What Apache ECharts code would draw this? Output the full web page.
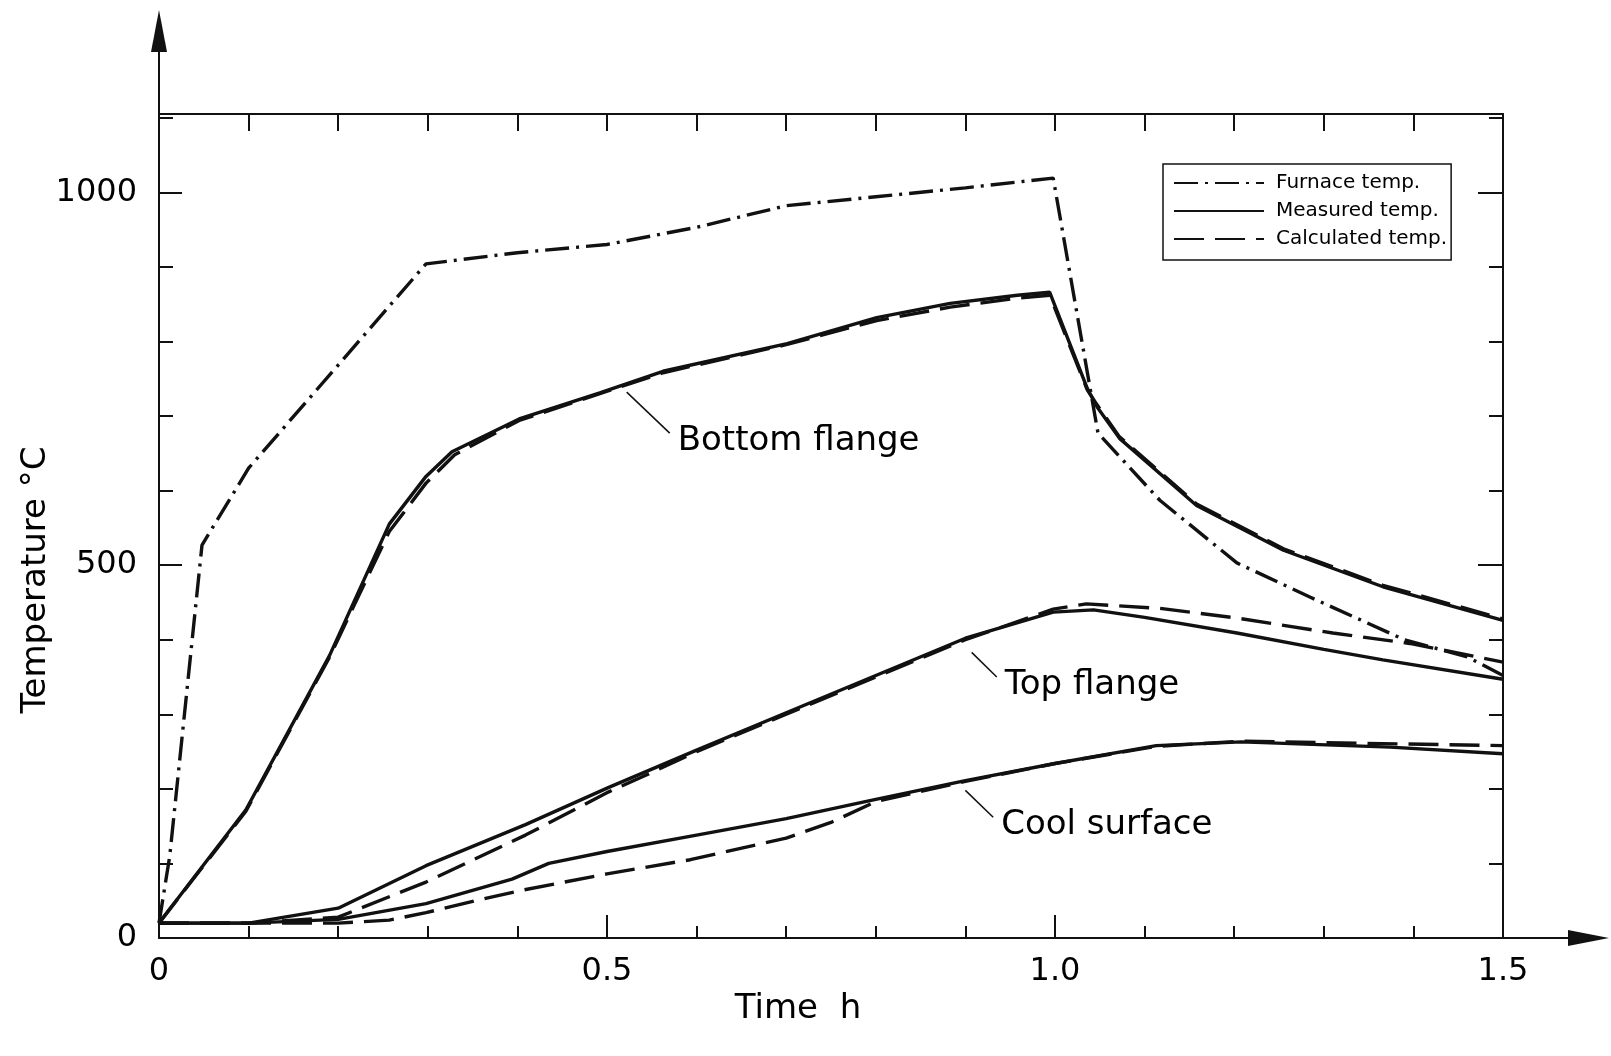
<!DOCTYPE html>
<html>
<head>
<meta charset="utf-8">
<script src="https://cdn.jsdelivr.net/npm/echarts@6/dist/echarts.min.js"></script>
<style>
html,body{margin:0;padding:0;background:#fff;}
#chart{width:1611px;height:1056px;}
</style>
</head>
<body>
<div id="chart"></div>
<script>
// ---- data: [time h, temperature °C] ----
const furnaceTemp = [[0,20],[0.012,110],[0.048,527],[0.1,630],[0.298,904],[0.4,919],[0.5,930],[0.6,953],[0.7,982],[0.8,994],[0.9,1006],[0.998,1019],[1.048,677],[1.117,587],[1.203,503],[1.285,457],[1.39,400],[1.46,377],[1.5,352]];

const bottomMeasured = [[0,20],[0.097,172],[0.19,378],[0.257,555],[0.298,619],[0.327,652],[0.402,696],[0.492,731],[0.5625,760],[0.701,797],[0.801,832],[0.883,851],[0.958,862],[0.994,866],[1.036,737],[1.047,712],[1.072,670],[1.158,580],[1.255,520],[1.366,471],[1.5,426]];
const bottomCalculated = [[0,20],[0.097,170],[0.19,376],[0.257,545],[0.298,610],[0.33,648],[0.402,694],[0.492,730],[0.5625,758],[0.701,796],[0.801,828],[0.883,846],[0.958,858],[0.994,862],[1.036,735],[1.047,715],[1.072,672],[1.158,582],[1.255,522],[1.366,473],[1.5,428]];

const topMeasured = [[0,20],[0.1,20],[0.2,40],[0.298,97],[0.409,152],[0.502,202],[0.6,252],[0.7,302],[0.8,352],[0.9,402],[0.998,437],[1.043,440],[1.1,430],[1.203,409],[1.3,387],[1.366,373],[1.5,347]];
const topCalculated = [[0,20],[0.1,20],[0.2,28],[0.298,75],[0.409,138],[0.502,196],[0.55,222],[0.6,250],[0.7,300],[0.8,350],[0.9,400],[0.998,441],[1.035,448],[1.117,442],[1.203,429],[1.31,409],[1.396,395],[1.5,370]];

const coolMeasured = [[0,20],[0.1,20],[0.2,25],[0.298,46],[0.394,79],[0.435,100],[0.5,116],[0.6,138],[0.7,160],[0.8,186],[0.9,211],[1.0,234],[1.113,258],[1.208,263],[1.374,256],[1.5,247]];
const coolCalculated = [[0,20],[0.1,20],[0.2,20],[0.257,24],[0.298,34],[0.353,50],[0.405,64],[0.5,86],[0.593,105],[0.7,134],[0.75,155],[0.8,183],[0.9,210],[1.0,234],[1.113,257],[1.208,264],[1.3,262],[1.5,258]];

// annotation leader lines (start near curve, end at text)
const bottomLeader = [[0.522,732],[0.570,677]];
const topLeader = [[0.907,383],[0.935,350]];
const coolLeader = [[0.900,198],[0.931,162]];
const leaderTexts = ['Bottom flange','Top flange','Cool surface'];

// tick labels
const xLabelValues = [0,0.5,1.0,1.5];
const xLabelTexts = ['0','0.5','1.0','1.5'];
const yLabelValues = [0,500,1000];
const legendNames = ['Furnace temp.','Measured temp.','Calculated temp.'];

const FONT = 'DejaVu Sans';
const INK = '#111';
const furnaceDash = [24,7,3,7];
const calcDash = [30,11];

const chart = echarts.init(document.getElementById('chart'), null, {renderer:'canvas'});

function curve(name, data, dash) {
  return {
    type:'line', name:name, data:data, xAxisIndex:0, yAxisIndex:0,
    symbol:'none', smooth:false, animation:false,
    lineStyle:{color:INK, width:3.4, type: dash || 'solid'},
    itemStyle:{color:INK}
  };
}
function leader(data, text) {
  return {
    type:'line', name:text, data:data, xAxisIndex:0, yAxisIndex:0,
    symbol:'none', animation:false,
    lineStyle:{color:INK, width:1.5},
    itemStyle:{color:INK},
    endLabel:{show:true, formatter:text, color:'#000', fontFamily:FONT, fontSize:34, distance:8, offset:[0,8]}
  };
}

const axisLineStyle = {show:true, onZero:false, lineStyle:{color:INK, width:2}};
const hiddenLine = {show:false, onZero:false};

const option = {
  backgroundColor:'#fff',
  animation:false,
  grid:{left:159, right:108, top:114, bottom:118},
  legend:{
    data:legendNames,
    orient:'vertical', left:1163, top:164,
    itemWidth:90, itemHeight:20, itemGap:8,
    padding:[9,4,11,10],
    borderColor:INK, borderWidth:1.5,
    selectedMode:false,
    lineStyle:{width:2},
    itemStyle:{opacity:0},
    textStyle:{fontFamily:FONT, fontSize:20, color:'#000', padding:[0,0,0,7]}
  },
  xAxis:[
    {
      type:'value', position:'bottom', min:0, max:1.5, interval:0.5,
      axisLine:axisLineStyle,
      axisTick:{show:true, inside:true, length:23, lineStyle:{color:INK, width:2}},
      minorTick:{show:true, splitNumber:5, length:12, lineStyle:{color:INK, width:2}},
      splitLine:{show:false},
      axisLabel:{
        margin:18, fontFamily:FONT, fontSize:32, color:'#000',
        formatter:function(v){
          for (let i=0;i<xLabelValues.length;i++) if (Math.abs(v-xLabelValues[i])<1e-6) return xLabelTexts[i];
          return '';
        }
      },
      name:'Time  h', nameLocation:'middle', nameGap:54, nameMoveOverlap:false,
      nameTextStyle:{fontFamily:FONT, fontSize:34, color:'#000', padding:[0,66,0,0]}
    },
    {
      type:'value', position:'top', min:0, max:1.5, interval:0.1,
      axisLine:axisLineStyle,
      axisTick:{show:true, inside:true, length:17, lineStyle:{color:INK, width:2}},
      splitLine:{show:false}, axisLabel:{show:false}
    }
  ],
  yAxis:[
    {
      type:'value', position:'left', min:0, max:1105, interval:100,
      axisLine:axisLineStyle,
      axisTick:{show:true, inside:true, length:14, lineStyle:{color:INK, width:2}},
      splitLine:{show:false},
      axisLabel:{
        margin:22, fontFamily:FONT, fontSize:32, color:'#000',
        formatter:function(v){ return yLabelValues.indexOf(v) >= 0 ? String(v) : ''; }
      },
      name:'Temperature °C', nameLocation:'middle', nameGap:106, nameRotate:90, nameMoveOverlap:false,
      nameTextStyle:{fontFamily:FONT, fontSize:34, color:'#000', padding:[0,108,0,0]}
    },
    {
      type:'value', position:'left', min:0, max:1105, interval:500,
      axisLine:hiddenLine,
      axisTick:{show:true, inside:true, length:23, lineStyle:{color:INK, width:2}},
      splitLine:{show:false}, axisLabel:{show:false}
    },
    {
      type:'value', position:'right', min:0, max:1105, interval:100,
      axisLine:axisLineStyle,
      axisTick:{show:true, inside:true, length:14, lineStyle:{color:INK, width:2}},
      splitLine:{show:false}, axisLabel:{show:false}
    },
    {
      type:'value', position:'right', min:0, max:1105, interval:500,
      axisLine:hiddenLine,
      axisTick:{show:true, inside:true, length:25, lineStyle:{color:INK, width:2}},
      splitLine:{show:false}, axisLabel:{show:false}
    }
  ],
  series:[
    curve(legendNames[0], furnaceTemp, furnaceDash),
    curve(legendNames[1], bottomMeasured),
    curve(legendNames[2], bottomCalculated, calcDash),
    curve(legendNames[1], topMeasured),
    curve(legendNames[2], topCalculated, calcDash),
    curve(legendNames[1], coolMeasured),
    curve(legendNames[2], coolCalculated, calcDash),
    leader(bottomLeader, leaderTexts[0]),
    leader(topLeader, leaderTexts[1]),
    leader(coolLeader, leaderTexts[2])
  ]
};
chart.setOption(option);

// axis arrows extending beyond the frame
const origin = chart.convertToPixel({xAxisIndex:0, yAxisIndex:0}, [0,0]);
const xEnd = chart.convertToPixel({xAxisIndex:0}, 1.5);
const yTop = chart.convertToPixel({yAxisIndex:0}, 1105);
const ox = origin[0], oy = origin[1];
chart.setOption({
  graphic:[
    {type:'line', shape:{x1:ox, y1:yTop, x2:ox, y2:48}, style:{stroke:INK, lineWidth:2}},
    {type:'polygon', shape:{points:[[ox,10],[ox-8,52],[ox+8,52]]}, style:{fill:INK}},
    {type:'line', shape:{x1:xEnd, y1:oy, x2:1572, y2:oy}, style:{stroke:INK, lineWidth:2}},
    {type:'polygon', shape:{points:[[1609,oy],[1568,oy-8],[1568,oy+8]]}, style:{fill:INK}}
  ]
});
</script>
</body>
</html>
